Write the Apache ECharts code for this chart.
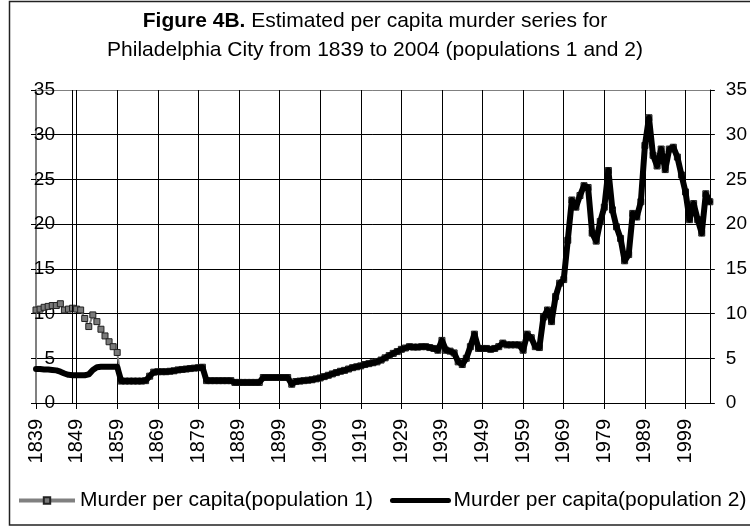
<!DOCTYPE html>
<html>
<head>
<meta charset="utf-8">
<script src="https://cdn.jsdelivr.net/npm/echarts@6/dist/echarts.min.js"></script>
<style>
html,body{margin:0;padding:0;background:#fff;}
#chart{width:750px;height:527px;}
</style>
</head>
<body>
<div id="chart"></div>
<script>
// ---- data ----
const firstYear = 1839;
const lastYear = 2005;
const years = [];
for (let y = firstYear; y <= lastYear; y++) years.push(String(y));

// Murder per capita (population 2), 1839 ...
const pop2 = [
  3.8, 3.8, 3.75, 3.75, 3.7, 3.65, 3.5, 3.3, 3.15, 3.1,
  3.1, 3.1, 3.1, 3.2, 3.7, 4.0, 4.05, 4.05, 4.05, 4.05,
  4.05, 2.45, 2.45, 2.45, 2.45, 2.45, 2.45, 2.5, 3.0, 3.45,
  3.5, 3.5, 3.5, 3.55, 3.6, 3.7, 3.75, 3.8, 3.85, 3.9,
  3.95, 4.0, 2.5, 2.5, 2.5, 2.5, 2.5, 2.5, 2.5, 2.3,
  2.3, 2.3, 2.3, 2.3, 2.3, 2.3, 2.85, 2.85, 2.85, 2.85,
  2.85, 2.85, 2.85, 2.1, 2.4, 2.45, 2.5, 2.55, 2.6, 2.7,
  2.8, 2.95, 3.1, 3.25, 3.4, 3.55, 3.65, 3.8, 3.95, 4.05,
  4.15, 4.3, 4.4, 4.5, 4.6, 4.8, 5.05, 5.3, 5.55, 5.75,
  6.0, 6.15, 6.3, 6.25, 6.25, 6.3, 6.3, 6.2, 6.1, 5.9,
  7.0, 5.9, 5.8, 5.6, 4.6, 4.3, 5.0, 6.3, 7.7, 6.1,
  6.1, 6.1, 6.0, 6.1, 6.3, 6.7, 6.5, 6.5, 6.5, 6.5,
  5.9, 7.7, 7.3, 6.3, 6.2, 9.6, 10.4, 9.1, 11.9, 13.4,
  13.8, 18.2, 22.7, 21.9, 23.2, 24.3, 24.1, 19.0, 18.1, 20.3,
  21.9, 26.0, 21.6, 19.7, 18.4, 15.9, 16.6, 21.2, 20.8, 22.5,
  28.8, 31.9, 27.7, 26.5, 28.4, 26.1, 28.4, 28.6, 27.5, 25.5,
  23.6, 20.5, 22.3, 20.5, 19.0, 23.4, 22.5
];

// Murder per capita (population 1), 1839 ... (coincides with population 2 from 1860)
const pop1 = [
  10.4, 10.5, 10.7, 10.8, 10.9, 10.9, 11.1, 10.4, 10.5, 10.6,
  10.5, 10.4, 9.45, 8.55, 9.85, 9.1, 8.25, 7.5, 6.85, 6.3,
  5.65, 2.45, 2.45, 2.45, 2.45, 2.45, 2.45, 2.5, 3.0, 3.45,
  3.5, 3.5, 3.5, 3.55, 3.6, 3.7, 3.75, 3.8, 3.85, 3.9,
  3.95, 4.0, 2.5, 2.5, 2.5, 2.5, 2.5, 2.5, 2.5, 2.3,
  2.3, 2.3, 2.3, 2.3, 2.3, 2.3, 2.85, 2.85, 2.85, 2.85,
  2.85, 2.85, 2.85, 2.1, 2.4, 2.45, 2.5, 2.55, 2.6, 2.7,
  2.8, 2.95, 3.1, 3.25, 3.4, 3.55, 3.65, 3.8, 3.95, 4.05,
  4.15, 4.3, 4.4, 4.5, 4.6, 4.8, 5.05, 5.3, 5.55, 5.75,
  6.0, 6.15, 6.3, 6.25, 6.25, 6.3, 6.3, 6.2, 6.1, 5.9,
  7.0, 5.9, 5.8, 5.6, 4.6, 4.3, 5.0, 6.3, 7.7, 6.1,
  6.1, 6.1, 6.0, 6.1, 6.3, 6.7, 6.5, 6.5, 6.5, 6.5,
  5.9, 7.7, 7.3, 6.3, 6.2, 9.6, 10.4, 9.1, 11.9, 13.4,
  13.8, 18.2, 22.7, 21.9, 23.2, 24.3, 24.1, 19.0, 18.1, 20.3,
  21.9, 26.0, 21.6, 19.7, 18.4, 15.9, 16.6, 21.2, 20.8, 22.5,
  28.8, 31.9, 27.7, 26.5, 28.4, 26.1, 28.4, 28.6, 27.5, 25.5,
  23.6, 20.5, 22.3, 20.5, 19.0, 23.4, 22.5
];

const seriesNames = ['Murder per capita(population 1)', 'Murder per capita(population 2)'];
const yMin = 0, yMax = 35, yStep = 5;
const extraLineYear = '1848';

const FONT = "'Liberation Sans', Arial, sans-serif";

const chart = echarts.init(document.getElementById('chart'), null, {renderer: 'canvas'});

chart.setOption({
  backgroundColor: '#fff',
  animation: false,
  textStyle: {fontFamily: FONT, color: '#000'},
  title: {
    text: '{b|Figure 4B.} Estimated per capita murder series for\nPhiladelphia City from 1839 to 2004 (populations 1 and 2)',
    left: 'center',
    top: 7,
    padding: 0,
    textStyle: {
      fontFamily: FONT,
      fontSize: 21,
      fontWeight: 'normal',
      color: '#000',
      lineHeight: 29,
      rich: {
        b: {fontFamily: FONT, fontSize: 21, fontWeight: 'bold', color: '#000', lineHeight: 29}
      }
    }
  },
  legend: {
    left: 17,
    top: 490,
    padding: 0,
    itemWidth: 56,
    itemHeight: 8,
    itemGap: 17,
    textStyle: {fontFamily: FONT, fontSize: 21, color: '#000', lineHeight: 21},
    data: [
      {name: seriesNames[0], lineStyle: {width: 4, color: '#808080'}},
      {name: seriesNames[1], lineStyle: {width: 5, color: '#000'}, itemStyle: {opacity: 0}}
    ]
  },
  grid: {left: 36, right: 37, top: 90, bottom: 124, containLabel: false},
  xAxis: {
    type: 'category',
    data: years,
    boundaryGap: false,
    axisLine: {show: true, lineStyle: {color: '#000', width: 1}},
    axisTick: {show: true, interval: 9, length: 6, lineStyle: {color: '#000'}},
    axisLabel: {interval: 9, rotate: 90, margin: 16, fontSize: 20, color: '#000', fontFamily: FONT},
    splitLine: {show: true, interval: 9, lineStyle: {color: '#000', width: 1}}
  },
  yAxis: [
    {
      type: 'value',
      position: 'left',
      min: yMin, max: yMax, interval: yStep,
      axisLine: {show: true, lineStyle: {color: '#808080', width: 2}},
      axisTick: {show: true, length: 5, lineStyle: {color: '#000'}},
      axisLabel: {margin: -19, align: 'right', fontSize: 19, color: '#000', fontFamily: FONT},
      splitLine: {show: true, lineStyle: {color: ['#000','#000','#000','#000','#000','#000','#000','#808080'], width: 1}}
    },
    {
      type: 'value',
      position: 'right',
      min: yMin, max: yMax, interval: yStep,
      axisLine: {show: true, lineStyle: {color: '#000', width: 1}},
      axisTick: {show: true, length: 5, lineStyle: {color: '#000'}},
      axisLabel: {margin: 16, fontSize: 19, color: '#000', fontFamily: FONT},
      splitLine: {show: false}
    }
  ],
  series: [
    {
      name: seriesNames[0],
      type: 'line',
      yAxisIndex: 0,
      data: pop1,
      symbol: 'rect',
      symbolSize: 6,
      showAllSymbol: true,
      lineStyle: {color: '#808080', width: 2},
      itemStyle: {color: '#7a7a7a', borderColor: '#222', borderWidth: 1},
      z: 2
    },
    {
      name: seriesNames[1],
      type: 'line',
      yAxisIndex: 1,
      data: pop2,
      symbol: 'none',
      lineStyle: {color: '#000', width: 6, join: 'round', cap: 'round'},
      itemStyle: {color: '#000'},
      z: 3,
      markLine: {
        silent: true,
        symbol: 'none',
        label: {show: false},
        lineStyle: {color: '#000', width: 1, type: 'solid'},
        data: [{xAxis: extraLineYear}]
      }
    }
  ],
  graphic: [
    {
      type: 'rect',
      silent: true,
      z: 100,
      shape: {x: 9.5, y: 1.5, width: 760, height: 523.5},
      style: {fill: 'none', stroke: '#222', lineWidth: 1.5}
    }
  ]
});
</script>
</body>
</html>
